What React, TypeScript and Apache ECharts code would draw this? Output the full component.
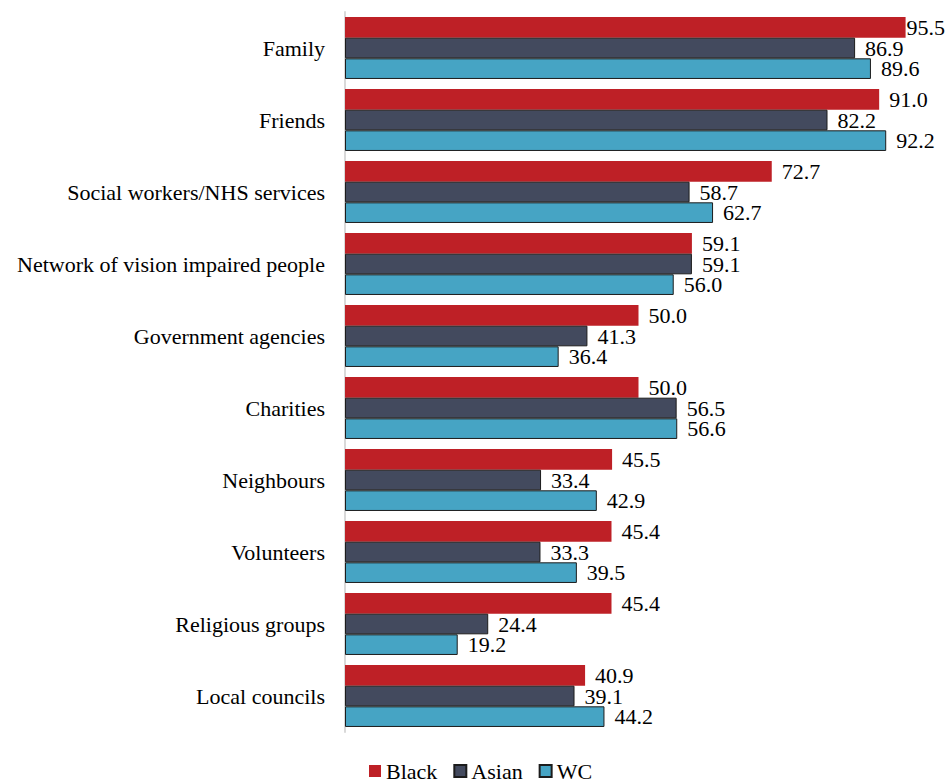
import React, { useEffect, useRef } from "react";
import * as echarts from "echarts";

const categories = [
  "Family",
  "Friends",
  "Social workers/NHS services",
  "Network of vision impaired people",
  "Government agencies",
  "Charities",
  "Neighbours",
  "Volunteers",
  "Religious groups",
  "Local councils",
];
const black = [95.5, 91.0, 72.7, 59.1, 50.0, 50.0, 45.5, 45.4, 45.4, 40.9];
const asian = [86.9, 82.2, 58.7, 59.1, 41.3, 56.5, 33.4, 33.3, 24.4, 39.1];
const wc = [89.6, 92.2, 62.7, 56.0, 36.4, 56.6, 42.9, 39.5, 19.2, 44.2];

const FONT = "Liberation Serif";

export default function App() {
  const ref = useRef<HTMLDivElement>(null);
  useEffect(() => {
    if (!ref.current) return;
    const chart = echarts.init(ref.current, null, { renderer: "svg" });
    const mkLabel = () => ({
      show: true,
      position: "right" as const,
      distance: 10,
      color: "#000",
      fontSize: 22,
      lineHeight: 20,
      fontFamily: FONT,
      formatter: (p: any) => Number(p.value).toFixed(1),
    });
    const mk = (name: string, data: number[], color: string, border: boolean) => ({
      name,
      type: "bar",
      // keep labels inside the canvas when a bar nearly reaches the right edge
      data: data.map((v) => (v > 93 ? { value: v, label: { distance: 1 } } : v)),
      barGap: "0%",
      barCategoryGap: "14%",
      itemStyle: {
        color,
        borderColor: border ? "#1c1c1c" : color,
        borderWidth: border ? 1 : 0,
      },
      label: mkLabel(),
    });
    chart.setOption({
      animation: false,
      grid: { left: 345, right: 15, top: 12, bottom: 50, containLabel: false },
      xAxis: {
        type: "value",
        min: 0,
        max: 100,
        show: false,
        splitLine: { show: false },
      },
      yAxis: {
        type: "category",
        data: categories,
        inverse: true,
        axisLine: { show: true, lineStyle: { color: "#d9d9d9", width: 2 } },
        axisTick: { show: false },
        axisLabel: {
          color: "#000",
          fontSize: 22,
          fontFamily: FONT,
          margin: 20,
        },
      },
      legend: {
        bottom: 0,
        left: 369,
        padding: [0, 5, 0, 0],
        itemWidth: 12,
        itemHeight: 12,
        itemGap: 16,
        icon: "rect",
        textStyle: { fontSize: 22, lineHeight: 22, fontFamily: FONT, color: "#000" },
        data: ["Black", "Asian", "WC"],
      },
      series: [
        mk("Black", black, "#be2026", false),
        mk("Asian", asian, "#434a5e", true),
        mk("WC", wc, "#46a4c4", true),
      ],
    });
    return () => chart.dispose();
  }, []);
  return (
    <div
      ref={ref}
      style={{ position: "absolute", left: 0, top: 0, width: 947, height: 782 }}
    />
  );
}
